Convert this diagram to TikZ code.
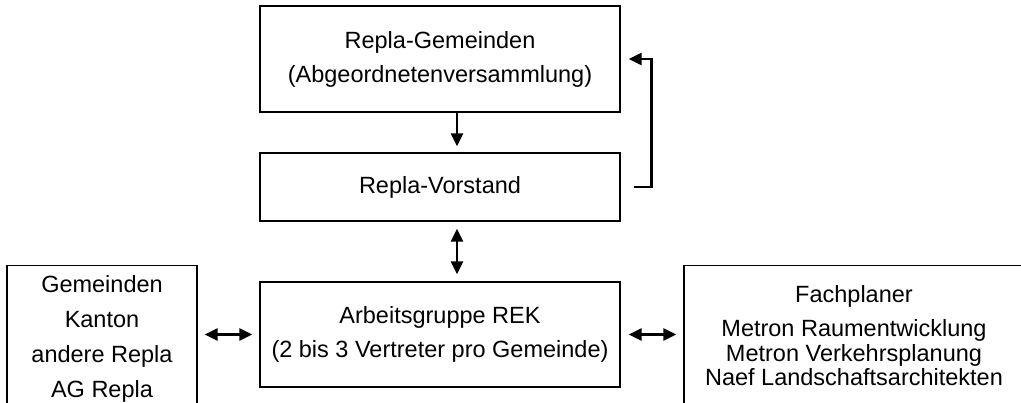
\documentclass[tikz,border=0pt]{standalone}
\usepackage{fontspec}
\setmainfont{Liberation Sans}
\usetikzlibrary{arrows.meta,calc,positioning}
\tikzset{
  orgbox/.style={draw, line width=1.3pt, align=center, inner sep=0pt,
    font=\fontsize{23.5}{34}\selectfont},
  link/.style={line width=2.4pt, -{Triangle[length=13pt,width=12pt]}},
  twoway/.style={line width=2.4pt, {Triangle[length=13pt,width=12pt]}-{Triangle[length=13pt,width=12pt]}},
  every picture/.style={line cap=butt, line join=miter}
}
\begin{document}
\begin{tikzpicture}[x=1pt,y=-1pt]
  \useasboundingbox (0,0) rectangle (1021,403);
  \clip (0,0) rectangle (1021,403);
  \node[orgbox, minimum width=360pt, minimum height=106pt] (gemeinden) at (440,59)
    {Repla-Gemeinden\\(Abgeordnetenversammlung)};
  \node[orgbox, minimum width=360pt, minimum height=68pt] (vorstand) at (440,187)
    {Repla-Vorstand};
  \node[orgbox, minimum width=360pt, minimum height=105pt] (ag) at (440,334.5)
    {Arbeitsgruppe REK\\(2 bis 3 Vertreter pro Gemeinde)};
  \node[orgbox, anchor=north, minimum width=190pt, inner ysep=9.5pt,
    font=\fontsize{23.5}{35}\selectfont] (partner) at (102,265)
    {Gemeinden\\Kanton\\andere Repla\\AG Repla};
  \node[orgbox, anchor=north, minimum width=340pt, inner ysep=19.5pt,
    font=\fontsize{23.5}{24.5}\selectfont] (planer) at (854,265)
    {Fachplaner\\[10pt]Metron Raumentwicklung\\Metron Verkehrsplanung\\Naef Landschaftsarchitekten};
  % connectors
  \coordinate (fbstart) at ([xshift=13pt]vorstand.east);
  \coordinate (fbend) at ([xshift=8pt]gemeinden.east);
  \draw[link, shorten >=6pt] ([xshift=17pt]gemeinden.south) -- ([xshift=17pt]vorstand.north);
  \draw[link] (fbstart) -- ++(18,0) |- (fbend);
  \draw[twoway, shorten <=7pt, shorten >=7pt] ([xshift=17pt]vorstand.south) -- ([xshift=17pt]ag.north);
  \draw[twoway, shorten <=7pt, shorten >=7pt] (partner.east |- ag.west) -- (ag.west);
  \draw[twoway, shorten <=8pt, shorten >=7pt] (ag.east) -- (planer.west |- ag.east);
\end{tikzpicture}
\end{document}
